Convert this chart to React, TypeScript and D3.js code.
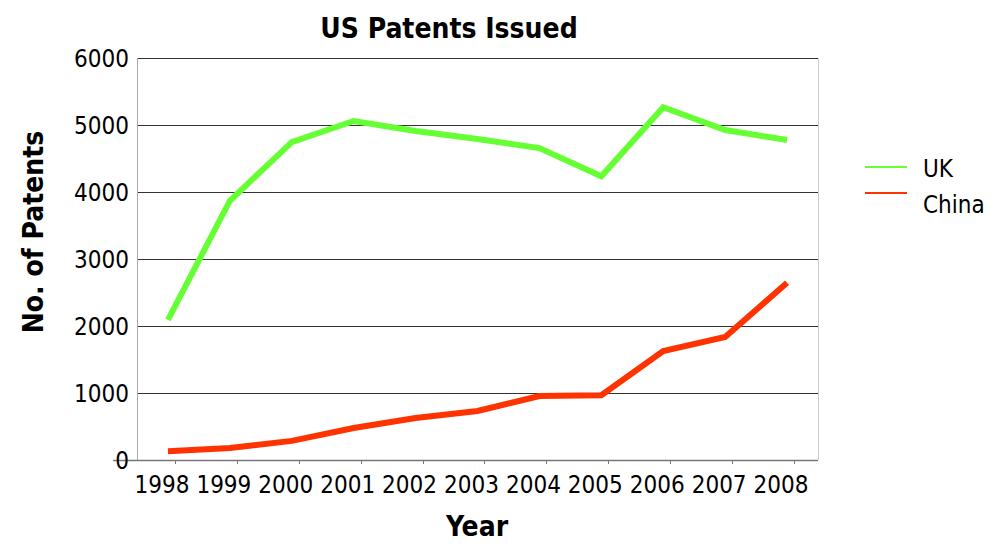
import React from "react";
import * as d3 from "d3";

const years = ["1998","1999","2000","2001","2002","2003","2004","2005","2006","2007","2008"];
const ukValues = [2090, 3870, 4745, 5060, 4910, 4790, 4655, 4235, 5265, 4925, 4775];
const chinaValues = [130, 180, 285, 478, 627, 731, 955, 968, 1627, 1836, 2645];
const yTicks = [0, 1000, 2000, 3000, 4000, 5000, 6000];
const seriesNames = ["UK", "China"];
const seriesColors = ["#66ff33", "#ff3300"];

const W = 994, H = 544;
const left = 137, right = 818, top = 58, bottom = 460;
const FONT = "'DejaVu Sans Condensed', 'Open Sans', 'DejaVu Sans', sans-serif";

export default function App() {
  const x = d3.scaleBand<string>().domain(years).range([left, right]).padding(0);
  const y = d3.scaleLinear().domain([0, 6000]).range([bottom, top]);
  const cx = (yr: string) => (x(yr) as number) + x.bandwidth() / 2;
  const line = d3.line<number>().x((_, i) => cx(years[i])).y((v) => y(v));
  const series = [ukValues, chinaValues];

  return (
    <svg width={W} height={H} style={{ position: "absolute", left: 0, top: 0, background: "#fff" }} fontFamily={FONT}>
      <rect x={0} y={0} width={W} height={H} fill="#fff" />
      {yTicks.filter(t => t > 0).map(t => (
        <line key={t} x1={left} x2={right} y1={Math.round(y(t)) + 0.5} y2={Math.round(y(t)) + 0.5} stroke="#333" strokeWidth={1} />
      ))}
      <line x1={left + 0.5} x2={left + 0.5} y1={top} y2={bottom} stroke="#aaa" strokeWidth={1} />
      <line x1={right + 0.5} x2={right + 0.5} y1={top} y2={bottom} stroke="#ccc" strokeWidth={1} />
      <line x1={113} x2={right} y1={bottom + 0.5} y2={bottom + 0.5} stroke="#777" strokeWidth={1.5} />
      {years.map(yr => (
        <line key={yr} x1={Math.round(cx(yr) + 7) + 0.5} x2={Math.round(cx(yr) + 7) + 0.5} y1={bottom} y2={bottom + 4} stroke="#777" strokeWidth={1} />
      ))}
      {yTicks.map(t => (
        <text key={t} x={129} y={y(t) + 9} textAnchor="end" fontSize={24} fill="#000">{t}</text>
      ))}
      {years.map(yr => (
        <text key={yr} x={cx(yr) - 6} y={493} textAnchor="middle" fontSize={24} fill="#000">{yr}</text>
      ))}
      {series.map((s, i) => (
        <path key={i} d={line(s) || ""} fill="none" stroke={seriesColors[i]} strokeWidth={6} strokeLinejoin="miter" />
      ))}
      <text x={449} y={38} textAnchor="middle" fontSize={28} fontWeight="bold" fill="#000">US Patents Issued</text>
      <text x={477} y={536} textAnchor="middle" fontSize={28} fontWeight="bold" fill="#000">Year</text>
      <text transform="translate(43,232) rotate(-90)" textAnchor="middle" fontSize={28} fontWeight="bold" fill="#000">No. of Patents</text>
      {seriesNames.map((n, i) => (
        <g key={n}>
          <line x1={865} x2={907} y1={167 + i * 26} y2={167 + i * 26} stroke={seriesColors[i]} strokeWidth={2} />
          <text x={923} y={177 + i * 36} fontSize={24} fill="#000">{n}</text>
        </g>
      ))}
    </svg>
  );
}
